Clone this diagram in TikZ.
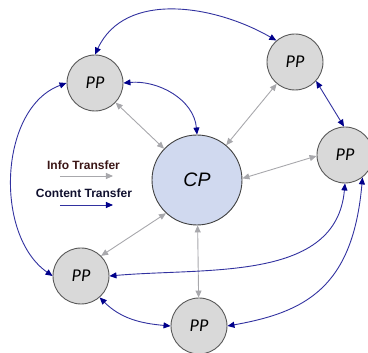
\documentclass[tikz,border=0pt]{standalone}
\usepackage{fontspec}
\setmainfont{Liberation Sans}
\newfontfamily\carl{Carlito}
\usetikzlibrary{arrows.meta}
\definecolor{ppfill}{HTML}{D9D9D9}
\definecolor{cpfill}{HTML}{D0D9EF}
\definecolor{blueln}{HTML}{3232A0}
\definecolor{bluetip}{HTML}{00008B}
\definecolor{grayln}{HTML}{A8A8AC}
\definecolor{infotxt}{HTML}{3A1515}
\definecolor{conttxt}{HTML}{10102E}
\begin{document}
\begin{tikzpicture}[x=1pt,y=1pt,
  ppnode/.style={circle, draw=black!65, line width=0.9pt, fill=ppfill, minimum size=56pt, inner sep=0pt, font=\carl\itshape\fontsize{18}{18}\selectfont},
  cpnode/.style={circle, draw=black!75, line width=0.9pt, fill=cpfill, minimum size=90pt, inner sep=0pt, font=\itshape\fontsize{19.5}{20}\selectfont},
  gtip/.tip={Triangle[length=7pt,width=6pt]},
  btip/.tip={Triangle[length=7pt,width=6pt,color=bluetip]},
  info/.style={draw=grayln, line width=0.9pt, gtip-gtip},
  content/.style={draw=blueln, line width=0.9pt, btip-btip},
  legtext/.style={font=\bfseries\fontsize{12}{12}\selectfont, inner sep=0pt}
]
\useasboundingbox (0,0) rectangle (368,353);

% nodes
\node[cpnode] (cp) at (197,173) {CP};
\node[ppnode] (pp1) at (95,270) {PP};
\node[ppnode] (pp2) at (295,291) {PP};
\node[ppnode] (pp3) at (345,198) {PP};
\node[ppnode] (pp4) at (81,77) {PP};
\node[ppnode] (pp5) at (199,27) {PP};

% info transfer (gray)
\draw[info] (cp) -- (pp1);
\draw[info] (cp.50) -- (pp2.230);
\draw[info] (cp.2) -- (pp3.182);
\draw[info] (cp.227) -- (pp4.45);
\draw[info] (cp) -- (pp5);

% content transfer (blue)
\draw[content] (pp1.90) to[out=65,in=150] (pp2.131);
\draw[content] (pp1.0) to[out=5,in=95] (cp.90);
\draw[content] (pp1.180) to[out=200,in=145,looseness=0.95] (pp4.180);
\draw[content] (pp2.-42) -- (pp3.92);
\draw[content] (pp3.270) to[out=265,in=5] (pp4.0);
\draw[content] (pp3.-52) .. controls +(265:110) and +(10:80) .. (pp5.0);
\draw[content] (pp4.-49) to[out=-45,in=175] (pp5.180);

% legend
\node[legtext, text=infotxt] (infol) at (83.5,188) {Info Transfer};
\coordinate (ia) at (60,177);
\coordinate (ib) at (113,177);
\draw[draw=grayln, line width=0.9pt, -gtip] (ia) -- (ib);
\node[legtext, text=conttxt] (contl) at (84,160) {Content Transfer};
\coordinate (ca) at (60,148);
\coordinate (cb) at (113,148);
\draw[draw=blueln, line width=0.9pt, -btip] (ca) -- (cb);
\end{tikzpicture}
\end{document}
